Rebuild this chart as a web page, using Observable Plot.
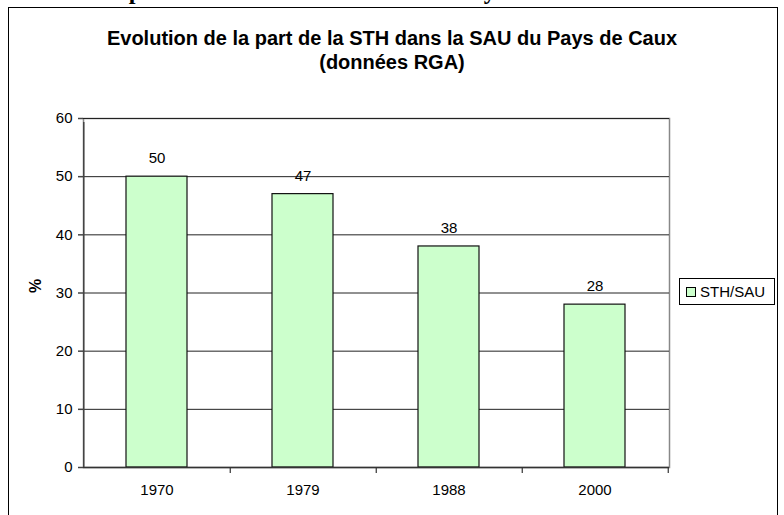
<!DOCTYPE html>
<html>
<head>
<meta charset="utf-8">
<script src="https://cdn.jsdelivr.net/npm/d3@7"></script>
<script src="https://cdn.jsdelivr.net/npm/@observablehq/plot@0.6"></script>
<style>
  html, body { margin: 0; padding: 0; background: #fff; overflow: hidden; }
  #page { position: relative; width: 784px; height: 515px; overflow: hidden; font-family: "Liberation Sans", Arial, sans-serif; }
  #above { position: absolute; left: 0; top: 0; }
  #box { position: absolute; left: 8px; top: 7px; width: 770px; height: 540px; border: 1.5px solid #000; box-sizing: border-box; }
  .title { position: absolute; left: 0; width: 784px; text-align: center; font-weight: bold; font-size: 20px; color: #000; white-space: nowrap; }
  #chart { position: absolute; left: 0; top: 0; }
  #legend { position: absolute; left: 679px; top: 278px; width: 96px; height: 27px; border: 1px solid #000; box-sizing: border-box; background: #fff; font-size: 15px; display: flex; align-items: center; }
  #legend .sw { width: 8px; height: 8px; border: 1px solid #000; background: #CCFFCC; margin-left: 6px; margin-right: 4px; flex: none; }
</style>
</head>
<body>
<div id="page">
  <svg id="above" width="784" height="12"><text x="-34" y="-1" font-family="Liberation Serif, Times New Roman, serif" font-weight="bold" font-size="24.3">Evolution de la part de la STH dans la SAU du Pays de Caux</text></svg>
  <div id="box"></div>
  <div id="chart"></div>
  <div class="title" style="top:27px">Evolution de la part de la STH dans la SAU du Pays de Caux</div>
  <div class="title" style="top:51px">(données RGA)</div>
  <div id="legend"><div class="sw"></div><span>STH/SAU</span></div>
</div>
<script>
const years = ["1970", "1979", "1988", "2000"];
const values = [50, 47, 38, 28];
const yTicks = [0, 10, 20, 30, 40, 50, 60];
const yLabel = "%";
const seriesName = "STH/SAU";

const data = years.map((y, i) => ({year: y, value: values[i]}));

const W = 784, H = 515, mL = 83, mR = 115, mT = 118, mB = 48;
const step = (W - mL - mR) / years.length;

const chart = Plot.plot({
  width: W,
  height: H,
  marginLeft: mL,
  marginRight: mR,
  marginTop: mT,
  marginBottom: mB,
  style: {fontFamily: "'Liberation Sans', Arial, sans-serif", fontSize: "15px", color: "#000", background: "transparent", overflow: "visible"},
  x: {domain: years, paddingInner: 0.58, paddingOuter: 0.29, label: null},
  y: {domain: [0, 60], label: null},
  marks: [
    Plot.frame({stroke: "#888", strokeWidth: 1.5}),
    Plot.gridY(yTicks, {stroke: "#222", strokeOpacity: 1, strokeWidth: 1}),
    Plot.barY(data, {x: "year", y: "value", fill: "#CCFFCC", stroke: "#111", strokeWidth: 1.2}),
    Plot.text(data, {x: "year", y: "value", text: d => String(d.value), dy: -18, fontSize: 15, fill: "#000"}),
    Plot.axisY({ticks: yTicks, tickSize: 5, tickPadding: 6, fontSize: 15, label: null, stroke: "#444", strokeWidth: 1.5}),
    Plot.ruleY([0], {stroke: "#333", strokeWidth: 1.5}),
    Plot.axisX({tickSize: 0, tickPadding: 17, fontSize: 15, label: null}),
    Plot.ruleX(years, {x: d => d, y1: 0, y2: 0, insetBottom: -6, dx: step / 2, stroke: "#333", strokeWidth: 1.2}),
    Plot.ruleX(years.slice(0, 1), {x: d => d, y1: 0, y2: 60, insetBottom: -4, dx: -step / 2, stroke: "#444", strokeWidth: 1.5}),
    Plot.text([yLabel], {frameAnchor: "left", text: d => d, dx: -48, rotate: -90, fontWeight: "bold", fontSize: 16, fill: "#000"})
  ]
});
document.getElementById("chart").appendChild(chart);
</script>
</body>
</html>
